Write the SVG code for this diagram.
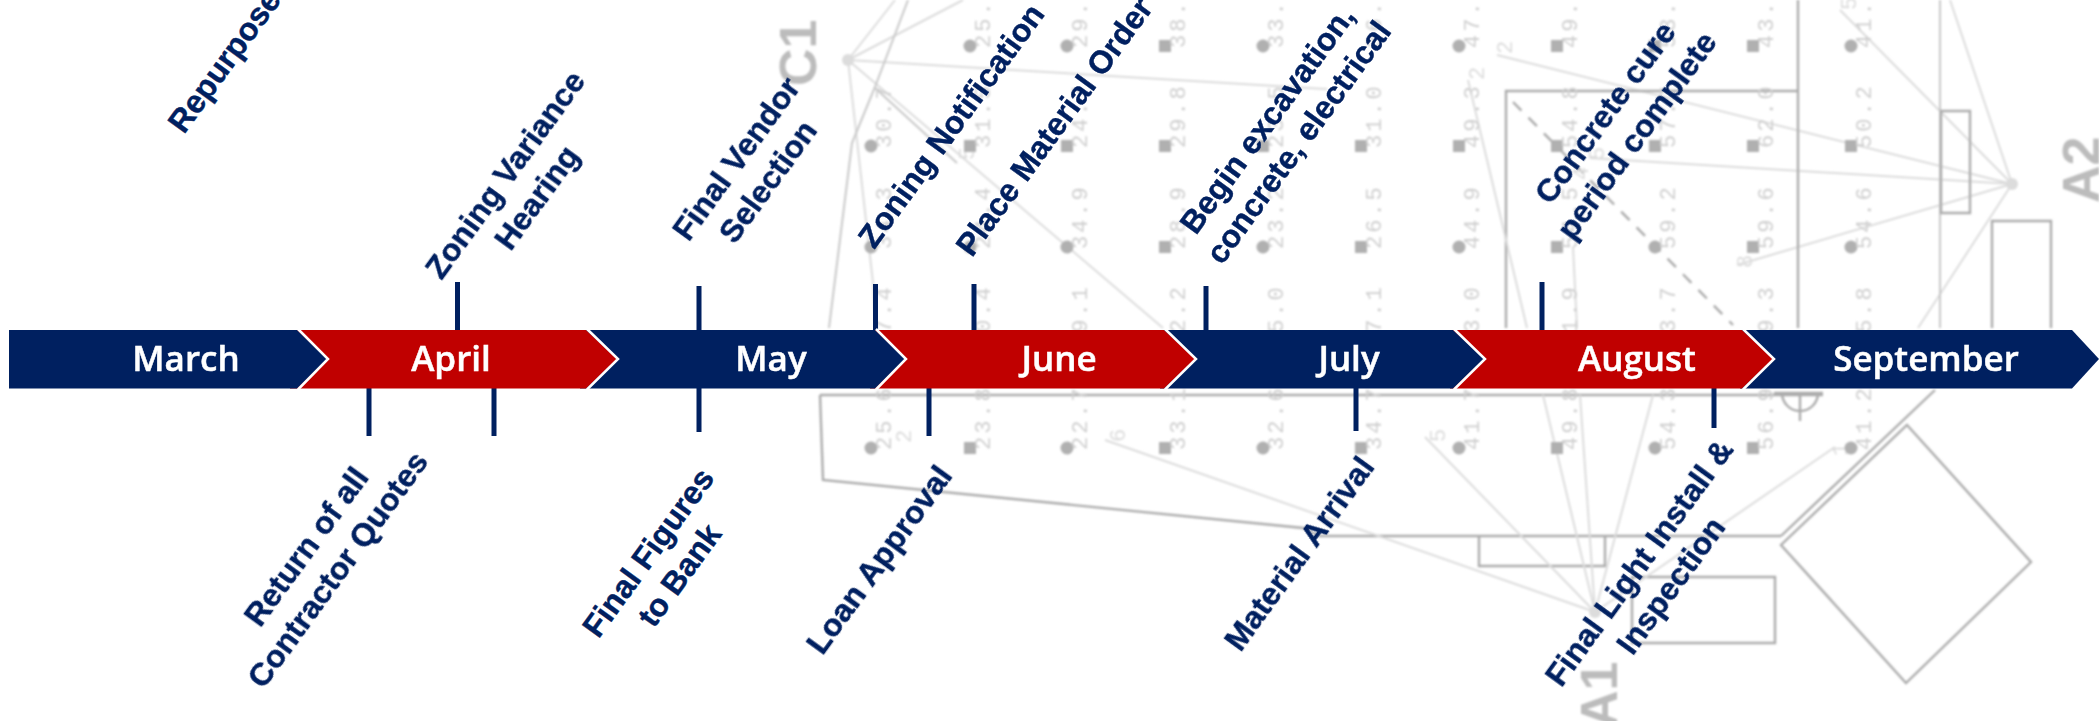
<svg xmlns="http://www.w3.org/2000/svg" width="2099" height="721" viewBox="0 0 2099 721">
<style>
.v{font:22px "Liberation Mono",monospace;letter-spacing:3px;fill:#cfcfcf}
.s{fill:#b0b0b0}
.w{fill:none;stroke:#dcdcdc;stroke-width:2}
.d{fill:none;stroke:#acacac;stroke-width:2.4}
.l{fill:none;stroke:#c8c8c8;stroke-width:2}
.n{font:22px "Liberation Mono",monospace;fill:#dcdcdc}
.big{font:bold 52px "Liberation Sans",sans-serif;fill:#bcbcbc}
.m{font:600 35px "Open Sans",sans-serif;fill:#fff;text-anchor:middle;stroke:#fff;stroke-width:.5}
.t{font:bold 32px "Liberation Sans",Arial,sans-serif;fill:#002060;text-anchor:middle;stroke:#002060;stroke-width:.4}
.sep{fill:none;stroke:#fff;stroke-width:2.5}
.tick{stroke:#002060;stroke-width:5;fill:none}
</style>
<defs>
<filter id="soft" x="0" y="0" width="100%" height="100%" filterUnits="userSpaceOnUse"><feGaussianBlur stdDeviation="0.9"/></filter>
<rect id="q" x="-6" y="-6" width="12" height="12" class="s"/>
<circle id="o" r="6.5" class="s"/>
</defs>
<rect width="2099" height="721" fill="#fff"/>
<g id="plan" filter="url(#soft)">
<g id="plan-lines">
<path class="w" d="M848 60L1327 89M848 60L963 0M848 60L895 0M848 60L873 283L876 330M848 60L1163 328"/>
<path class="l" stroke-width="3" d="M875 88L957 163"/>
<path class="l" d="M908 0L875 87L852 143L829 328"/>
<path class="w" d="M1497 55L2012 184M1590 158L2012 184M1737 265L2012 184M1840 10L2012 184M1950 0L2012 184M2012 184L1918 328"/>
<path class="d" d="M1798 0V328M1506 328V91H1798"/>
<path class="l" d="M1940 0V328"/>
<path class="d" d="M1941 111h29v102h-29zM1992 328V221h59V328"/>
<path class="d" stroke-dasharray="12 10" d="M1513 102L1733 325"/>
<path class="w" d="M1468 80L1527 328M1573 247L1577 328"/>
<path class="d" d="M820 395H1823M1781 536L1935 390M1907 425L2031 562L1906 683L1781 545ZM1479 536V566H1605V536M1632 643V577H1775V643Z"/>
<path class="d" d="M820 395L823 480L1303 528L1320 536H1781"/>
<path class="d" stroke-width="3.5" d="M1774 393H1823M1782 393A18 18 0 0 0 1818 393M1800 393V421"/>
<path class="w" d="M1425 437L1595 612M1543 395L1595 612M1580 395L1595 612M1653 395L1595 612M1835 447L1595 612M1105 440L1595 612"/>
</g>
<g id="plan-nodes">
<circle cx="848" cy="60" r="6" fill="#dcdcdc"/>
<circle cx="2012" cy="184" r="6" fill="#dcdcdc"/>
<circle cx="1595" cy="612" r="6" fill="#dcdcdc"/>
<text class="big" transform="translate(816 86) rotate(-90)">C1</text>
<text class="big" transform="translate(2099 203) rotate(-90)">A2</text>
<text class="big" transform="translate(1617 728) rotate(-90)">A1</text>
<text class="n" transform="translate(974 160) rotate(-90)">5</text>
<text class="n" transform="translate(1512 54) rotate(-90)">2</text>
<text class="n" transform="translate(1484 80) rotate(-90)">2</text>
<text class="n" transform="translate(1604 160) rotate(-90)">5</text>
<text class="n" transform="translate(1588 180) rotate(-90)">4</text>
<text class="n" transform="translate(1752 268) rotate(-90)">8</text>
<text class="n" transform="translate(1856 10) rotate(-90)">5</text>
<text class="n" transform="translate(911 443) rotate(-90)">2</text>
<text class="n" transform="translate(1125 442) rotate(-90)">6</text>
<text class="n" transform="translate(1445 442) rotate(-90)">5</text>
<text class="n" transform="translate(1847 456) rotate(-90)">1</text>
</g>
<g id="plan-points">
<use href="#o" x="970" y="46"/><use href="#o" x="1067" y="46"/><use href="#q" x="1165" y="46"/><use href="#o" x="1263" y="46"/><use href="#o" x="1459" y="46"/><use href="#q" x="1557" y="46"/><use href="#q" x="1655" y="46"/><use href="#q" x="1753" y="46"/><use href="#o" x="1851" y="46"/>
<use href="#o" x="871" y="146"/><use href="#q" x="970" y="146"/><use href="#q" x="1067" y="146"/><use href="#q" x="1165" y="146"/><use href="#q" x="1263" y="146"/><use href="#q" x="1361" y="146"/><use href="#q" x="1459" y="146"/><use href="#q" x="1557" y="146"/><use href="#q" x="1655" y="146"/><use href="#q" x="1753" y="146"/><use href="#q" x="1851" y="146"/>
<use href="#o" x="871" y="247"/><use href="#o" x="970" y="247"/><use href="#o" x="1067" y="247"/><use href="#q" x="1165" y="247"/><use href="#o" x="1263" y="247"/><use href="#q" x="1361" y="247"/><use href="#o" x="1459" y="247"/><use href="#q" x="1557" y="247"/><use href="#o" x="1655" y="247"/><use href="#q" x="1753" y="247"/><use href="#o" x="1851" y="247"/>
<use href="#o" x="871" y="448"/><use href="#q" x="970" y="448"/><use href="#o" x="1067" y="448"/><use href="#q" x="1165" y="448"/><use href="#o" x="1263" y="448"/><use href="#q" x="1361" y="448"/><use href="#o" x="1459" y="448"/><use href="#q" x="1557" y="448"/><use href="#o" x="1655" y="448"/><use href="#q" x="1753" y="448"/><use href="#o" x="1851" y="448"/>
</g>
<g id="plan-values">
<text class="v" transform="translate(990 48) rotate(-90)">25.</text><text class="v" transform="translate(1087 48) rotate(-90)">29.</text><text class="v" transform="translate(1185 48) rotate(-90)">38.</text><text class="v" transform="translate(1283 48) rotate(-90)">33.</text><text class="v" transform="translate(1381 48) rotate(-90)">36.</text><text class="v" transform="translate(1479 48) rotate(-90)">47.</text><text class="v" transform="translate(1577 48) rotate(-90)">49.</text><text class="v" transform="translate(1675 48) rotate(-90)">53.</text><text class="v" transform="translate(1773 48) rotate(-90)">43.</text><text class="v" transform="translate(1871 48) rotate(-90)">41.</text>
<text class="v" transform="translate(891 148) rotate(-90)">30.7</text><text class="v" transform="translate(990 148) rotate(-90)">31.5</text><text class="v" transform="translate(1087 148) rotate(-90)">24.7</text><text class="v" transform="translate(1185 148) rotate(-90)">29.8</text><text class="v" transform="translate(1283 148) rotate(-90)">23.5</text><text class="v" transform="translate(1381 148) rotate(-90)">31.0</text><text class="v" transform="translate(1479 148) rotate(-90)">49.3</text><text class="v" transform="translate(1577 148) rotate(-90)">54.8</text><text class="v" transform="translate(1675 148) rotate(-90)">57.7</text><text class="v" transform="translate(1773 148) rotate(-90)">62.0</text><text class="v" transform="translate(1871 148) rotate(-90)">50.2</text>
<text class="v" transform="translate(891 249) rotate(-90)">34.3</text><text class="v" transform="translate(990 249) rotate(-90)">24.4</text><text class="v" transform="translate(1087 249) rotate(-90)">34.9</text><text class="v" transform="translate(1185 249) rotate(-90)">28.9</text><text class="v" transform="translate(1283 249) rotate(-90)">23.2</text><text class="v" transform="translate(1381 249) rotate(-90)">26.5</text><text class="v" transform="translate(1479 249) rotate(-90)">44.9</text><text class="v" transform="translate(1577 249) rotate(-90)">54.5</text><text class="v" transform="translate(1675 249) rotate(-90)">59.2</text><text class="v" transform="translate(1773 249) rotate(-90)">59.6</text><text class="v" transform="translate(1871 249) rotate(-90)">54.6</text>
<text class="v" transform="translate(891 349) rotate(-90)">27.4</text><text class="v" transform="translate(990 349) rotate(-90)">20.4</text><text class="v" transform="translate(1087 349) rotate(-90)">39.1</text><text class="v" transform="translate(1185 349) rotate(-90)">32.2</text><text class="v" transform="translate(1283 349) rotate(-90)">45.0</text><text class="v" transform="translate(1381 349) rotate(-90)">37.1</text><text class="v" transform="translate(1479 349) rotate(-90)">43.0</text><text class="v" transform="translate(1577 349) rotate(-90)">41.9</text><text class="v" transform="translate(1675 349) rotate(-90)">43.7</text><text class="v" transform="translate(1773 349) rotate(-90)">49.3</text><text class="v" transform="translate(1871 349) rotate(-90)">45.8</text>
<text class="v" transform="translate(891 450) rotate(-90)">25.6</text><text class="v" transform="translate(990 450) rotate(-90)">23.8</text><text class="v" transform="translate(1087 450) rotate(-90)">22.7</text><text class="v" transform="translate(1185 450) rotate(-90)">33.1</text><text class="v" transform="translate(1283 450) rotate(-90)">32.6</text><text class="v" transform="translate(1381 450) rotate(-90)">34.7</text><text class="v" transform="translate(1479 450) rotate(-90)">41.7</text><text class="v" transform="translate(1577 450) rotate(-90)">49.8</text><text class="v" transform="translate(1675 450) rotate(-90)">54.3</text><text class="v" transform="translate(1773 450) rotate(-90)">56.9</text><text class="v" transform="translate(1871 450) rotate(-90)">41.2</text>
</g>
</g>
<g id="connectors">
<path class="tick" d="M457.5 282V331M699 286V331M875.5 284V331M974 284V331M1206 286V331M1542 282V331"/>
<path class="tick" d="M369 388V436M494 388V436M699 388V432M929 388V436M1356 388V431M1714 388V428"/>
</g>
<g id="month-september"><path fill="#002060" d="M1740 330H2072L2099 359L2072 388.5H1740Z"/><text class="m" x="1926" y="371">September</text></g>
<g id="month-august"><path fill="#C00000" d="M1450 330H1742L1773 359L1742 388.5H1450Z"/><path class="sep" d="M1743 329L1774 359L1743 389.5"/><text class="m" x="1637" y="371">August</text></g>
<g id="month-july"><path fill="#002060" d="M1160 330H1453L1484 359L1453 388.5H1160Z"/><path class="sep" d="M1454 329L1485 359L1454 389.5"/><text class="m" x="1349" y="371">July</text></g>
<g id="month-june"><path fill="#C00000" d="M870 330H1164L1195 359L1164 388.5H870Z"/><path class="sep" d="M1165 329L1196 359L1165 389.5"/><text class="m" x="1059" y="371">June</text></g>
<g id="month-may"><path fill="#002060" d="M580 330H875L905 359L875 388.5H580Z"/><path class="sep" d="M876 329L906 359L876 389.5"/><text class="m" x="771" y="371">May</text></g>
<g id="month-april"><path fill="#C00000" d="M290 330H586L617 359L586 388.5H290Z"/><path class="sep" d="M587 329L618 359L587 389.5"/><text class="m" x="451" y="371">April</text></g>
<g id="month-march"><path fill="#002060" d="M9 330H297L327 359L297 388.5H9Z"/><path class="sep" d="M298 329L328 359L298 389.5"/><text class="m" x="186" y="371">March</text></g>
<g id="milestone-repurpose"><text class="t" style="text-anchor:start" transform="translate(184 135) rotate(-54)">Repurpose</text></g>
<g id="milestone-zoning-hearing"><text class="t" transform="translate(514 181) rotate(-54)"><tspan x="0" y="0">Zoning Variance</tspan><tspan x="0" y="38.5">Hearing</tspan></text></g>
<g id="milestone-vendor"><text class="t" transform="translate(745 165) rotate(-54)"><tspan x="0" y="0">Final Vendor</tspan><tspan x="0" y="38.5">Selection</tspan></text></g>
<g id="milestone-zoning-notification"><text class="t" transform="translate(960 132) rotate(-54)">Zoning Notification</text></g>
<g id="milestone-material-order"><text class="t" transform="translate(1063 133) rotate(-54)">Place Material Order</text></g>
<g id="milestone-excavation"><text class="t" transform="translate(1276 126) rotate(-54)"><tspan x="0" y="0">Begin excavation,</tspan><tspan x="0" y="38.5">concrete, electrical</tspan></text></g>
<g id="milestone-cure"><text class="t" transform="translate(1614 119) rotate(-54)"><tspan x="0" y="0">Concrete cure</tspan><tspan x="0" y="38.5">period complete</tspan></text></g>
<g id="milestone-quotes"><text class="t" transform="translate(315 553) rotate(-54)"><tspan x="0" y="0">Return of all</tspan><tspan x="0" y="38.5">Contractor Quotes</tspan></text></g>
<g id="milestone-figures"><text class="t" transform="translate(657 559) rotate(-54)"><tspan x="0" y="0">Final Figures</tspan><tspan x="0" y="38.5">to Bank</tspan></text></g>
<g id="milestone-loan"><text class="t" transform="translate(888 566) rotate(-54)">Loan Approval</text></g>
<g id="milestone-material-arrival"><text class="t" transform="translate(1308 560) rotate(-54)">Material Arrival</text></g>
<g id="milestone-light"><text class="t" transform="translate(1648 569) rotate(-54)"><tspan x="0" y="0">Final Light Install &amp;</tspan><tspan x="0" y="38.5">Inspection</tspan></text></g>
</svg>
